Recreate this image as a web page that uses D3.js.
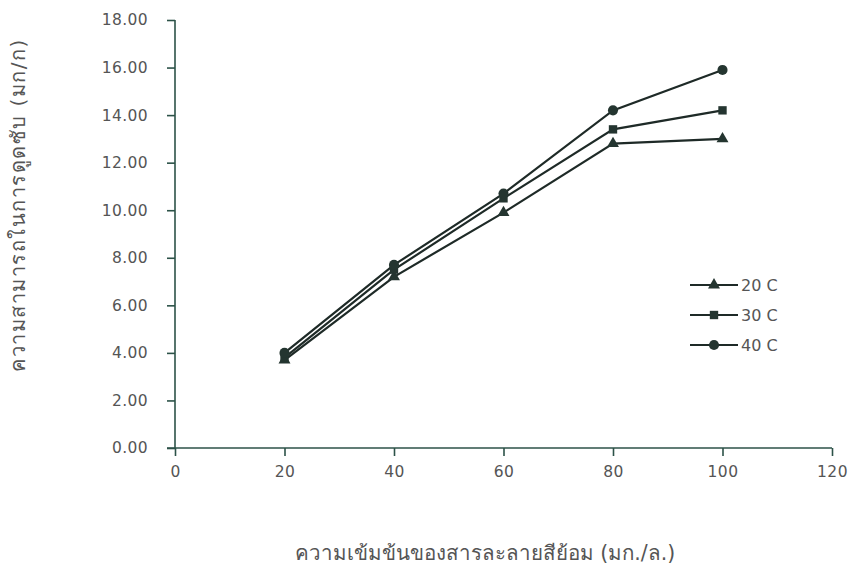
<!DOCTYPE html>
<html>
<head>
<meta charset="utf-8">
<script src="https://cdn.jsdelivr.net/npm/d3@7"></script>
<style>
  html, body { margin: 0; padding: 0; background: #fff; }
  svg { display: block; }
  text { font-family: "DejaVu Sans", Verdana, sans-serif; fill: #555; }
</style>
</head>
<body>
<svg id="chart" width="850" height="580"></svg>
<script>
// Dye concentration (mg/L) on the x axis
const concentrations = [20, 40, 60, 80, 100];
// Adsorption capacity (mg/g) at each temperature
const temp20 = [3.7, 7.2, 9.9, 12.8, 13.0];
const temp30 = [3.8, 7.5, 10.5, 13.4, 14.2];
const temp40 = [4.0, 7.7, 10.7, 14.2, 15.9];
const seriesNames = ["20 C", "30 C", "40 C"];
const seriesSymbols = ["triangle", "square", "circle"];
const xTicks = [0, 20, 40, 60, 80, 100, 120];
const yTicks = [0, 2, 4, 6, 8, 10, 12, 14, 16, 18];

const series = [temp20, temp30, temp40].map((vals, i) => ({
  name: seriesNames[i],
  symbol: seriesSymbols[i],
  points: vals.map((v, j) => ({ x: concentrations[j], y: v }))
}));

const svg = d3.select("#chart");
const axisColor = "#2c5248";
const lineColor = "#1e2a27";

const x = d3.scaleLinear().domain([0, 120]).range([175, 832]);
const y = d3.scaleLinear().domain([0, 18]).range([448, 20]);

const symbolGen = {
  triangle: d3.symbol().type(d3.symbolTriangle).size(62),
  square: d3.symbol().type(d3.symbolSquare).size(70),
  circle: d3.symbol().type(d3.symbolCircle).size(80)
};

// Y axis
const yAxis = svg.append("g")
  .attr("transform", `translate(${x(0)},0)`)
  .call(d3.axisLeft(y).tickValues(yTicks).tickSize(8).tickPadding(19)
    .tickFormat(d3.format(".2f")));
yAxis.select(".domain").attr("stroke", axisColor).attr("stroke-width", 1.6)
  .attr("d", `M0,${y(18)}V${y(0)}`);
yAxis.selectAll(".tick line").attr("stroke", axisColor).attr("stroke-width", 1.6);
yAxis.selectAll(".tick text").attr("font-size", 15.5).attr("fill", "#555")
  .style("letter-spacing", "0.4px");

// X axis
const xAxis = svg.append("g")
  .attr("transform", `translate(0,${y(0)})`)
  .call(d3.axisBottom(x).tickValues(xTicks).tickSize(8).tickPadding(10)
    .tickFormat(d3.format("d")));
xAxis.select(".domain").attr("stroke", axisColor).attr("stroke-width", 1.6)
  .attr("d", `M${x(0) - 8},0H${x(120)}`);
xAxis.selectAll(".tick line").attr("stroke", axisColor).attr("stroke-width", 1.6);
xAxis.selectAll(".tick text").attr("font-size", 15.5).attr("fill", "#555")
  .style("letter-spacing", "0.4px");

// Series lines and markers
const line = d3.line().x(d => x(d.x)).y(d => y(d.y));
const g = svg.append("g");
series.forEach(s => {
  g.append("path").datum(s.points)
    .attr("d", line).attr("fill", "none")
    .attr("stroke", lineColor).attr("stroke-width", 2.2);
});
series.forEach(s => {
  g.selectAll(null).data(s.points).join("path")
    .attr("transform", d => `translate(${x(d.x)},${y(d.y)})`)
    .attr("d", symbolGen[s.symbol]())
    .attr("fill", "#243530");
});

// Legend
const legend = svg.append("g").attr("transform", "translate(690,285)");
series.forEach((s, i) => {
  const row = legend.append("g").attr("transform", `translate(0,${i * 30})`);
  row.append("line").attr("x1", 0).attr("x2", 48).attr("y1", 0).attr("y2", 0)
    .attr("stroke", lineColor).attr("stroke-width", 2);
  row.append("path").attr("transform", "translate(24,0)")
    .attr("d", symbolGen[s.symbol]()).attr("fill", "#243530");
  row.append("text").attr("x", 51).attr("y", 0).attr("dy", "0.35em")
    .attr("font-size", 16).text(s.name);
});

// Axis titles
svg.append("text")
  .attr("transform", "translate(25,205) rotate(-90)")
  .attr("text-anchor", "middle").attr("font-size", 20)
  .style("letter-spacing", "1.5px")
  .text("ความสามารถในการดูดซับ (มก/ก)");
svg.append("text")
  .attr("x", 485).attr("y", 560)
  .attr("text-anchor", "middle").attr("font-size", 20.5)
  .text("ความเข้มข้นของสารละลายสีย้อม (มก./ล.)");
</script>
</body>
</html>
